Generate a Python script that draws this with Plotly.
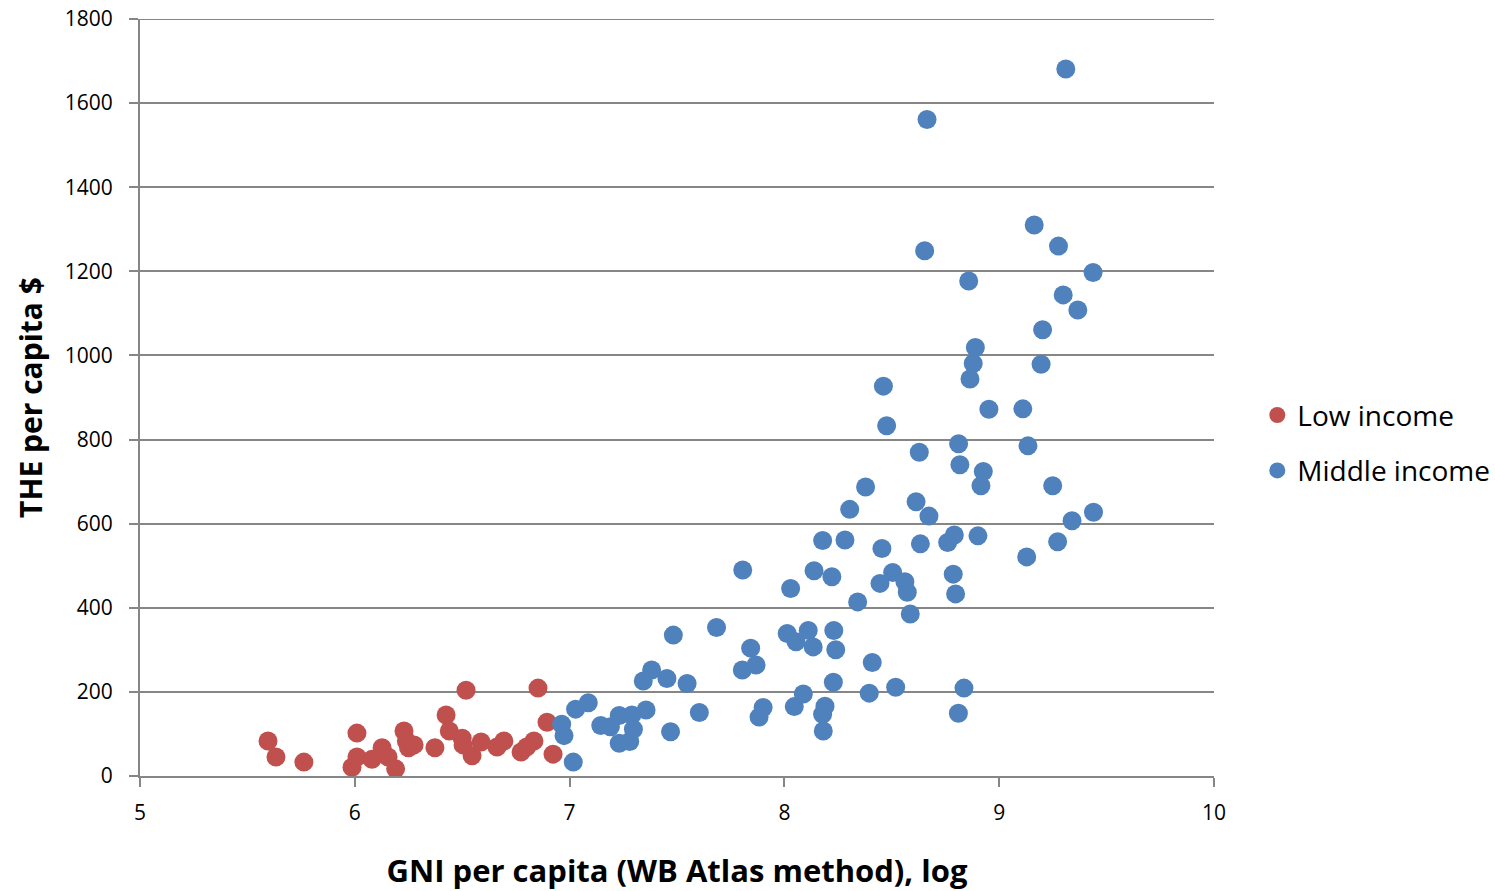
import plotly.graph_objects as go

# Low income countries: log GNI per capita vs THE per capita
low_x = [5.596, 5.633, 5.763, 5.987, 6.010, 6.010, 6.080, 6.127, 6.155, 6.190,
         6.229, 6.240, 6.250, 6.276, 6.373, 6.425, 6.440, 6.500, 6.518, 6.504,
         6.546, 6.588, 6.662, 6.694, 6.774, 6.800, 6.834, 6.853, 6.895, 6.923]
low_y = [83, 45, 33, 21, 102, 45, 40, 67, 45, 17,
         107, 83, 67, 74, 67, 145, 107, 90, 204, 74,
         48, 81, 69, 83, 57, 69, 83, 209, 128, 52]

# Middle income countries
mid_x = [7.017, 6.963, 6.974, 7.028, 7.087, 7.145, 7.190, 7.231, 7.290, 7.356,
         7.297, 7.231, 7.280, 7.343, 7.382, 7.453, 7.483, 7.547, 7.604, 7.470,
         7.684, 7.843, 7.868, 7.804, 7.901, 7.882, 8.013, 8.054, 8.111, 8.134,
         8.230, 8.239, 8.046, 8.088, 8.189, 8.178, 8.181, 8.228, 8.409, 8.395,
         8.341, 8.476, 8.628, 8.811, 8.817, 8.926, 8.915, 9.134, 9.110, 8.378,
         8.304, 8.613, 8.673, 8.178, 8.282, 8.454, 8.633, 8.760, 8.791, 8.901,
         9.128, 7.806, 8.029, 8.138, 8.221, 8.445, 8.504, 8.561, 8.572, 8.586,
         8.786, 8.797, 8.518, 8.836, 8.810, 8.653, 9.163, 9.276, 9.437, 8.858,
         9.298, 9.366, 9.202, 8.889, 8.879, 8.864, 9.195, 8.461, 8.952, 9.249,
         9.439, 9.339, 9.272, 9.310, 8.664]
mid_y = [33, 123, 96, 159, 174, 120, 117, 144, 145, 157,
         111, 78, 82, 226, 252, 232, 335, 220, 151, 105,
         353, 304, 264, 252, 163, 140, 339, 319, 346, 307,
         346, 300, 165, 195, 166, 147, 107, 223, 270, 197,
         414, 833, 770, 790, 740, 724, 690, 785, 873, 687,
         634, 652, 618, 560, 561, 541, 552, 555, 573, 571,
         521, 490, 446, 488, 474, 458, 484, 462, 437, 385,
         480, 433, 211, 209, 149, 1249, 1310, 1260, 1197, 1177,
         1144, 1108, 1061, 1019, 981, 944, 979, 927, 872, 690,
         627, 607, 557, 1681, 1561]

series_names = ["Low income", "Middle income"]
x_ticks = [5, 6, 7, 8, 9, 10]
y_ticks = [0, 200, 400, 600, 800, 1000, 1200, 1400, 1600, 1800]

RED = "#C0504D"
BLUE = "#4F81BD"
GRID = "#868686"
FONT = "Open Sans, Liberation Sans, sans-serif"

fig = go.Figure()
fig.add_trace(go.Scatter(x=low_x, y=low_y, mode="markers", name=series_names[0],
                         legendgroup="a",
                         marker=dict(color=RED, size=19, line=dict(width=0))))
fig.add_trace(go.Scatter(x=mid_x, y=mid_y, mode="markers", name=series_names[1],
                         legendgroup="b",
                         marker=dict(color=BLUE, size=19, line=dict(width=0))))

# top gridline at the range edge
fig.add_shape(type="line", xref="paper", yref="y", x0=0, x1=1,
              y0=y_ticks[-1], y1=y_ticks[-1], line=dict(color=GRID, width=2), layer="below")

fig.update_layout(
    width=1495, height=891,
    margin=dict(l=140, r=281, t=19, b=115, autoexpand=False),
    paper_bgcolor="white", plot_bgcolor="white",
    font=dict(family=FONT, color="#000000", size=21),
    showlegend=True,
    legend=dict(xref="container", yref="container", x=0.841, y=0.503,
                xanchor="left", yanchor="middle",
                font=dict(size=28, family=FONT), itemsizing="trace",
                tracegroupgap=16, itemwidth=30, bgcolor="rgba(0,0,0,0)"),
    xaxis=dict(range=[5, 10], tickvals=x_ticks, ticktext=[str(v) for v in x_ticks],
               showgrid=False, zeroline=False, showline=True, linecolor=GRID, linewidth=2,
               ticks="outside", ticklen=9, tickcolor=GRID, tickwidth=2,
               ticklabelstandoff=8, automargin=False,
               tickfont=dict(size=21, family=FONT),
               title=dict(text="<b>GNI per capita (WB Atlas method), log</b>",
                          font=dict(size=31, family=FONT), standoff=40)),
    yaxis=dict(range=[0, 1800], tickvals=y_ticks, ticktext=[str(v) for v in y_ticks],
               showgrid=True, gridcolor=GRID, gridwidth=2, zeroline=False,
               showline=True, linecolor=GRID, linewidth=2,
               ticks="outside", ticklen=9, tickcolor=GRID, tickwidth=2,
               ticklabelstandoff=12, automargin=False,
               tickfont=dict(size=21, family=FONT),
               title=dict(text="<b>THE per capita $</b>",
                          font=dict(size=30, family=FONT), standoff=13)),
)

fig.write_html("out.html")
